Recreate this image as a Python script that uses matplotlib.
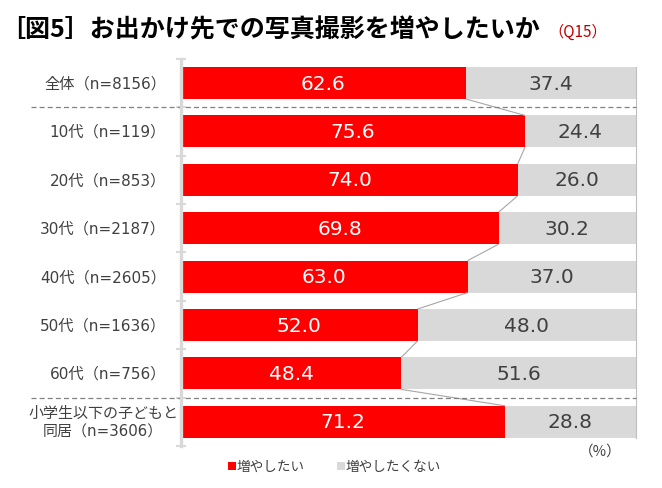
import matplotlib
matplotlib.use("Agg")
import matplotlib.pyplot as plt
from matplotlib.patches import Rectangle

plt.rcParams['font.family'] = ['Noto Sans CJK JP', 'DejaVu Sans']

categories = ["全体（n=8156）", "10代（n=119）", "20代（n=853）", "30代（n=2187）",
              "40代（n=2605）", "50代（n=1636）", "60代（n=756）",
              "小学生以下の子どもと\n同居（n=3606）"]
want = [62.6, 75.6, 74.0, 69.8, 63.0, 52.0, 48.4, 71.2]
not_want = [37.4, 24.4, 26.0, 30.2, 37.0, 48.0, 51.6, 28.8]
series_names = ["増やしたい", "増やしたくない"]
title = "［図5］お出かけ先での写真撮影を増やしたいか"
subtitle = "（Q15）"
unit = "（%）"

RED = "#FF0000"
GRAY = "#D9D9D9"
TXT = "#404040"
LABEL_FONT = ["DejaVu Sans", "Noto Sans CJK JP"]

W, H = 662, 489
fig = plt.figure(figsize=(W / 100, H / 100), dpi=100)
left, right, top, bottom = 181, 636, 59.8, 447
ax = fig.add_axes([left / W, 1 - bottom / H, (right - left) / W, (bottom - top) / H])

n = len(categories)
ys = list(range(n))
bh = 0.66
ax.barh(ys, want, height=bh, color=RED, linewidth=0)
ax.barh(ys, not_want, left=want, height=bh, color=GRAY, linewidth=0)
ax.set_xlim(0, 100)
ax.set_ylim(n - 0.5, -0.5)

for s in ["top", "right", "bottom"]:
    ax.spines[s].set_visible(False)
ax.spines["left"].set_color(GRAY)
ax.spines["left"].set_linewidth(2.4)
ax.set_xticks([])
ax.set_yticks([i - 0.5 for i in range(n + 1)])
ax.set_yticklabels([])
ax.tick_params(axis="y", direction="inout", length=7, width=1.5, color=GRAY)

# value labels
for i in range(n):
    ax.text(want[i] / 2, i, f"{want[i]:.1f}", ha="center", va="center",
            color="white", fontsize=14.5, family=["DejaVu Sans"])
    ax.text(want[i] + not_want[i] / 2, i, f"{not_want[i]:.1f}", ha="center",
            va="center", color=TXT, fontsize=14.5, family=["DejaVu Sans"])

# connector lines
for i in range(n - 1):
    ax.plot([want[i], want[i + 1]], [i + bh / 2, i + 1 - bh / 2],
            color="#A6A6A6", lw=0.8, solid_capstyle="butt")

# right edge line
ax.plot([100, 100], [-bh / 2, n - 1 + bh / 2], color="#BFBFBF", lw=0.8, clip_on=False)

# dashed separators
for yb in [0.5, n - 1.5]:
    ax.plot([-33.0, 100], [yb, yb], color="#808080", lw=0.9, ls=(0, (4, 2.5)),
            clip_on=False)

# category labels
for i, c in enumerate(categories):
    if "\n" in c:
        ax.text(-17.1, i, c, ha="center", va="center", multialignment="center",
                fontsize=10.8, color=TXT, linespacing=1.25, family=LABEL_FONT)
    else:
        ax.text(-3.3, i, c, ha="right", va="center", fontsize=11, color=TXT,
                family=LABEL_FONT)

# title
fig.text(0.5 / W, 1 - 30 / H, title, ha="left", va="center", fontsize=18,
         fontweight="bold", color="black")
fig.text(548 / W, 1 - 32 / H, subtitle, ha="left", va="center", fontsize=11,
         color="#C00000")

fig.text(600 / W, 1 - 452 / H, unit, ha="center", va="center", fontsize=10.5, color=TXT)

# legend (manual)
sq = 8
for x0, col, name in [(228, RED, series_names[0]), (337, GRAY, series_names[1])]:
    fig.patches.append(Rectangle((x0 / W, 1 - 471 / H), sq / W, sq / H,
                                 transform=fig.transFigure, facecolor=col,
                                 edgecolor="none"))
    fig.text((x0 + sq + 1) / W, 1 - 467 / H, name, ha="left", va="center",
             fontsize=9.8, color=TXT)

fig.savefig("out.png", dpi=100)
